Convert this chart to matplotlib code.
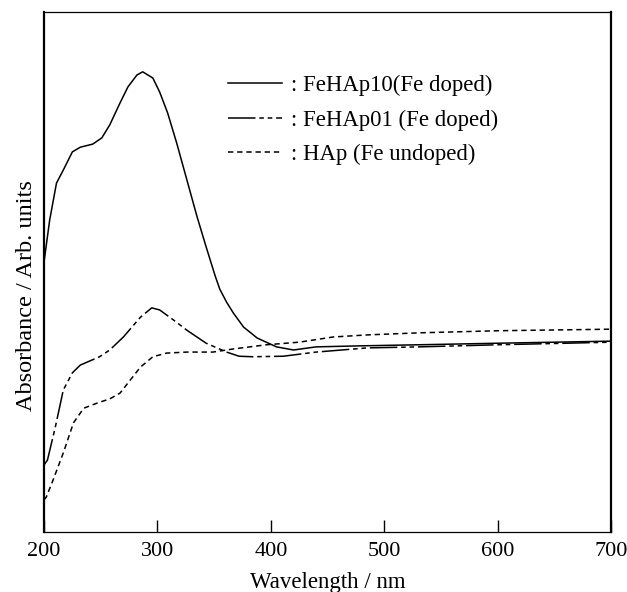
import matplotlib
matplotlib.use("Agg")
import matplotlib.pyplot as plt

plt.rcParams['font.family'] = ['Liberation Serif', 'DejaVu Serif']

# FeHAp10 (Fe doped)
wl_10 = [200, 205, 211, 217, 225, 232, 243, 251, 258, 267, 274, 282, 287, 296, 302, 309,
         317, 326, 335, 343, 351, 355, 361, 367, 376, 388, 405, 420, 440, 480, 530, 600, 700]
abs_10 = [0.519, 0.600, 0.671, 0.696, 0.731, 0.740, 0.746, 0.758, 0.783, 0.825, 0.856,
          0.879, 0.885, 0.873, 0.846, 0.806, 0.748, 0.677, 0.606, 0.548, 0.492, 0.467,
          0.442, 0.421, 0.394, 0.373, 0.356, 0.350, 0.356, 0.358, 0.360, 0.363, 0.367]

# FeHAp01 (Fe doped)
wl_01 = [200, 203, 210, 217, 225, 232, 249, 258, 270, 285, 295, 302, 314, 326, 343,
         361, 372, 384, 411, 440, 485, 531, 600, 700]
abs_01 = [0.129, 0.138, 0.202, 0.273, 0.306, 0.321, 0.337, 0.350, 0.375, 0.413, 0.431,
          0.427, 0.408, 0.388, 0.363, 0.346, 0.338, 0.337, 0.338, 0.346, 0.354, 0.356,
          0.360, 0.365]

# HAp (Fe undoped)
wl_hap = [200, 202, 208, 217, 226, 235, 247, 258, 267, 276, 285, 296, 308, 326, 349,
          367, 396, 425, 455, 485, 531, 600, 700]
abs_hap = [0.062, 0.067, 0.100, 0.152, 0.210, 0.238, 0.248, 0.256, 0.267, 0.292, 0.317,
           0.337, 0.344, 0.346, 0.346, 0.352, 0.360, 0.365, 0.375, 0.379, 0.383, 0.387,
           0.390]

labels = [': FeHAp10(Fe doped)', ': FeHAp01 (Fe doped)', ': HAp (Fe undoped)']
xticks = [200, 300, 400, 500, 600, 700]

fig = plt.figure(figsize=(6.27, 5.92), dpi=100)
ax = fig.add_axes([0.0702, 0.1014, 0.9043, 0.8783])

ax.plot(wl_10, abs_10, color='black', lw=1.1, label=labels[0])
ax.plot(wl_01, abs_01, color='black', lw=1.1, linestyle=(0, (18, 2.5, 3, 2.5, 3, 2.5)),
        label=labels[1])
ax.plot(wl_hap, abs_hap, color='black', lw=1.1, linestyle=(0, (3.5, 2.5)), label=labels[2])

ax.set_xlim(200, 700)
ax.set_ylim(0, 1)
ax.set_xticks(xticks)
ax.set_yticks([])
ax.tick_params(axis='x', direction='in', length=9, width=1, labelsize=16, pad=7)

for side in ['left', 'right']:
    ax.spines[side].set_linewidth(1.6)
for side in ['top', 'bottom']:
    ax.spines[side].set_linewidth(0.9)

ax.set_xlabel('Wavelength / nm', fontsize=16.5, labelpad=8)
ax.set_ylabel('Absorbance / Arb. units', fontsize=17.5)
ax.yaxis.set_label_coords(-0.013, 0.455)

ax.legend(loc='upper left', bbox_to_anchor=(0.2875, 0.918), frameon=False, fontsize=16.4,
          handlelength=2.4, handletextpad=0.4, labelspacing=0.575)

fig.savefig('out.png', dpi=100)
